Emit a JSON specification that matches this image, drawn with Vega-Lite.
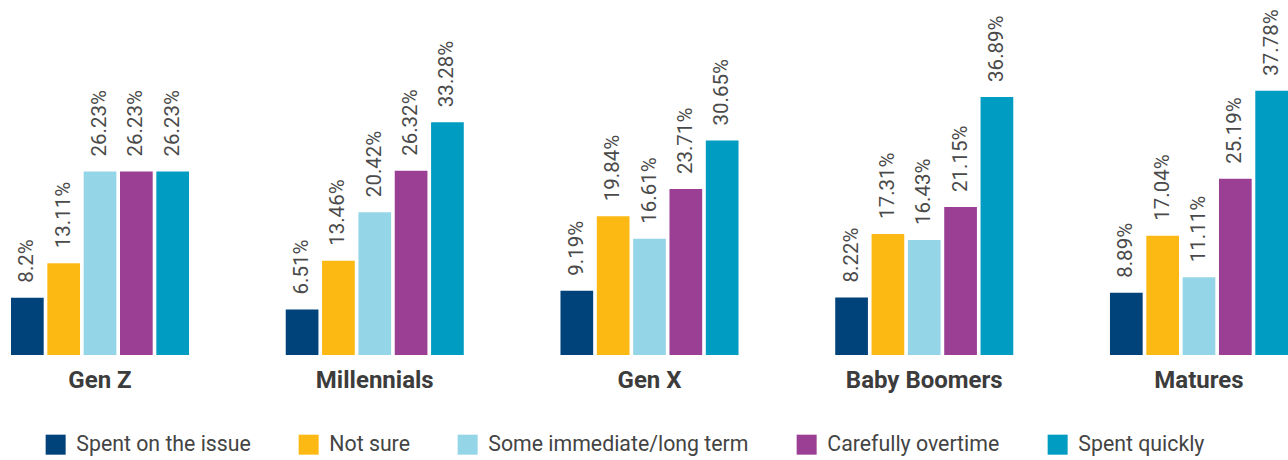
{
  "$schema": "https://vega.github.io/schema/vega-lite/v6.json",
  "width": 1277,
  "height": 355,
  "autosize": "none",
  "padding": {"left": 11, "top": 0, "right": 0, "bottom": 105},
  "background": "white",
  "config": {"view": {"stroke": null}, "font": "Roboto"},
  "data": {
    "values": [
      {"group": "Gen Z", "series": "Spent on the issue", "value": 8.2},
      {"group": "Gen Z", "series": "Not sure", "value": 13.11},
      {"group": "Gen Z", "series": "Some immediate/long term", "value": 26.23},
      {"group": "Gen Z", "series": "Carefully overtime", "value": 26.23},
      {"group": "Gen Z", "series": "Spent quickly", "value": 26.23},
      {"group": "Millennials", "series": "Spent on the issue", "value": 6.51},
      {"group": "Millennials", "series": "Not sure", "value": 13.46},
      {"group": "Millennials", "series": "Some immediate/long term", "value": 20.42},
      {"group": "Millennials", "series": "Carefully overtime", "value": 26.32},
      {"group": "Millennials", "series": "Spent quickly", "value": 33.28},
      {"group": "Gen X", "series": "Spent on the issue", "value": 9.19},
      {"group": "Gen X", "series": "Not sure", "value": 19.84},
      {"group": "Gen X", "series": "Some immediate/long term", "value": 16.61},
      {"group": "Gen X", "series": "Carefully overtime", "value": 23.71},
      {"group": "Gen X", "series": "Spent quickly", "value": 30.65},
      {"group": "Baby Boomers", "series": "Spent on the issue", "value": 8.22},
      {"group": "Baby Boomers", "series": "Not sure", "value": 17.31},
      {"group": "Baby Boomers", "series": "Some immediate/long term", "value": 16.43},
      {"group": "Baby Boomers", "series": "Carefully overtime", "value": 21.15},
      {"group": "Baby Boomers", "series": "Spent quickly", "value": 36.89},
      {"group": "Matures", "series": "Spent on the issue", "value": 8.89},
      {"group": "Matures", "series": "Not sure", "value": 17.04},
      {"group": "Matures", "series": "Some immediate/long term", "value": 11.11},
      {"group": "Matures", "series": "Carefully overtime", "value": 25.19},
      {"group": "Matures", "series": "Spent quickly", "value": 37.78}
    ]
  },
  "transform": [{"calculate": "format(datum.value, '.2~f') + '%'", "as": "label"}],
  "encoding": {
    "x": {
      "field": "group", "type": "nominal",
      "sort": ["Gen Z", "Millennials", "Gen X", "Baby Boomers", "Matures"],
      "scale": {"paddingInner": 0.352, "paddingOuter": 0},
      "axis": {"title": null, "labelAngle": 0, "domain": false, "ticks": false, "labelFontSize": 24, "labelFontWeight": "bold", "labelColor": "#3c3c3c", "labelPadding": 13}
    },
    "xOffset": {
      "field": "series", "type": "nominal",
      "sort": ["Spent on the issue", "Not sure", "Some immediate/long term", "Carefully overtime", "Spent quickly"],
      "scale": {"paddingInner": 0.1, "paddingOuter": 0}
    },
    "y": {"field": "value", "type": "quantitative", "scale": {"domain": [0, 50.74]}, "axis": null}
  },
  "layer": [
    {
      "mark": {"type": "bar"},
      "encoding": {
        "color": {
          "field": "series", "type": "nominal",
          "sort": ["Spent on the issue", "Not sure", "Some immediate/long term", "Carefully overtime", "Spent quickly"],
          "scale": {
            "domain": ["Spent on the issue", "Not sure", "Some immediate/long term", "Carefully overtime", "Spent quickly"],
            "range": ["#00427A", "#FDB913", "#95D5E8", "#9B3F94", "#009CC1"]
          },
          "legend": {
            "orient": "none", "legendX": 34, "legendY": 434, "direction": "horizontal", "title": null,
            "symbolType": "square", "symbolSize": 400, "symbolStrokeWidth": 0, "symbolOpacity": 1,
            "labelFontSize": 21.3, "labelColor": "#444444", "columnPadding": 47, "labelOffset": 10, "labelLimit": 400
          }
        }
      }
    },
    {
      "mark": {"type": "text", "angle": 270, "align": "left", "baseline": "middle", "dx": 15, "fontSize": 20.5, "color": "#4a4a4a"},
      "encoding": {"text": {"field": "label"}}
    }
  ]
}
